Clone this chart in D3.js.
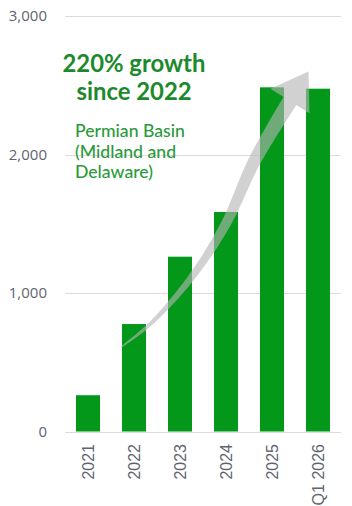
<!DOCTYPE html>
<html>
<head>
<meta charset="utf-8">
<script src="https://cdn.jsdelivr.net/npm/d3@7"></script>
<style>
  html, body { margin: 0; padding: 0; background: #fff; }
  svg { display: block; }
</style>
</head>
<body>
<svg id="chart" width="352" height="506"></svg>
<script>
// Permian Basin volumes by year
const categories = ["2021", "2022", "2023", "2024", "2025", "Q1 2026"];
const values = [262, 776, 1262, 1585, 2485, 2475];
const yTicks = [0, 1000, 2000, 3000];

const titleLines = ["220% growth", "since 2022"];
const noteLines = ["Permian Basin", "(Midland and", "Delaware)"];

// Growth arrow centreline, in (category position, value) units
const arrowPath = [
  { pos: 0.72, value: 610 },
  { pos: 1.35, value: 775 },
  { pos: 2.22, value: 1100 },
  { pos: 2.98, value: 1490 },
  { pos: 3.63, value: 1960 },
  { pos: 4.39, value: 2386 }
];

const W = 352, H = 506;
const margin = { top: 16, right: 11, bottom: 74.5, left: 65 };

const svg = d3.select("#chart");

const x = d3.scaleBand()
  .domain(categories)
  .range([margin.left, W - margin.right])
  .paddingInner(0.478)
  .paddingOuter(0.239);

const y = d3.scaleLinear()
  .domain([0, 3000])
  .range([H - margin.bottom, margin.top]);

// position along the category axis (0 = centre of first band)
const xPos = p => x(categories[0]) + x.bandwidth() / 2 + p * x.step();

// gridlines
svg.append("g")
  .selectAll("line")
  .data(yTicks)
  .join("line")
  .attr("x1", margin.left)
  .attr("x2", W - margin.right)
  .attr("y1", d => Math.round(y(d)) + 0.5)
  .attr("y2", d => Math.round(y(d)) + 0.5)
  .attr("stroke", "#dcdcdc")
  .attr("stroke-width", 1);

// y axis labels
const yAxis = d3.axisLeft(y)
  .tickValues(yTicks)
  .tickFormat(d3.format(","))
  .tickSize(0)
  .tickPadding(18);
const gy = svg.append("g")
  .attr("transform", `translate(${margin.left},0)`)
  .call(yAxis);
gy.select(".domain").remove();
gy.selectAll("text")
  .attr("font-family", "'Open Sans', sans-serif")
  .attr("font-size", 15)
  .attr("fill", "#5f6470");

// bars
svg.append("g")
  .selectAll("rect")
  .data(values)
  .join("rect")
  .attr("x", (d, i) => x(categories[i]))
  .attr("width", x.bandwidth())
  .attr("y", d => y(d))
  .attr("height", d => y(0) - y(d))
  .attr("fill", "#03981a");

// x axis labels, rotated
const xAxis = d3.axisBottom(x).tickSize(0).tickPadding(0);
const gx = svg.append("g")
  .attr("transform", `translate(0,${y(0)})`)
  .call(xAxis);
gx.select(".domain").remove();
gx.selectAll("text")
  .attr("font-family", "'Liberation Sans', Arial, sans-serif")
  .attr("font-size", 16)
  .attr("fill", "#5f6470")
  .attr("text-anchor", "end")
  .attr("dy", null)
  .attr("transform", "translate(5.5,12.5) rotate(-90)");

// growth arrow: tapered curved shaft with a head
(function drawArrow() {
  const pts = arrowPath.map(d => [xPos(d.pos), y(d.value)]);
  const line = d3.line().curve(d3.curveCatmullRom.alpha(0.5));
  const tmp = svg.append("path").attr("d", line(pts)).attr("fill", "none");
  const node = tmp.node();
  const L = node.getTotalLength();
  const N = 80;
  const left = [], right = [];
  let lastDir = [0, -1];
  for (let k = 0; k <= N; k++) {
    const t = k / N;
    const p = node.getPointAtLength(t * L);
    const p2 = node.getPointAtLength(Math.min(L, t * L + 1));
    const p1 = node.getPointAtLength(Math.max(0, t * L - 1));
    let dx = p2.x - p1.x, dy = p2.y - p1.y;
    const m = Math.hypot(dx, dy) || 1;
    dx /= m; dy /= m;
    lastDir = [dx, dy];
    const hw = 0.6 + 7 * Math.pow(t, 0.8);
    const nx = -dy, ny = dx;
    left.push([p.x + nx * hw, p.y + ny * hw]);
    right.push([p.x - nx * hw, p.y - ny * hw]);
  }
  tmp.remove();
  const base = [(left[N][0] + right[N][0]) / 2, (left[N][1] + right[N][1]) / 2];
  const [dx, dy] = lastDir;
  const nx = -dy, ny = dx;
  const headLen = 35, headHalf = 23;
  const tip = [base[0] + dx * headLen, base[1] + dy * headLen];
  const barbL = [base[0] + nx * headHalf, base[1] + ny * headHalf];
  const barbR = [base[0] - nx * headHalf, base[1] - ny * headHalf];
  const poly = [...left, barbL, tip, barbR, ...right.reverse()];
  svg.append("path")
    .attr("d", "M" + poly.map(p => p.join(",")).join("L") + "Z")
    .attr("fill", "#b4b4b4")
    .attr("fill-opacity", 0.62);
})();

// annotation text, sized to a set width
function fitText(sel, target, startSize) {
  sel.attr("font-size", startSize);
  const w = sel.node().getComputedTextLength();
  sel.attr("font-size", startSize * target / w);
}

const titleX = 134;
const t1 = svg.append("text")
  .attr("x", titleX).attr("y", 71.5)
  .attr("text-anchor", "middle")
  .attr("font-family", "Lato, 'Open Sans', sans-serif")
  .attr("font-weight", 700)
  .attr("fill", "#1c8a2c")
  .text(titleLines[0]);
fitText(t1, 143, 20);
const tSize = +t1.attr("font-size");
svg.append("text")
  .attr("x", titleX).attr("y", 100)
  .attr("text-anchor", "middle")
  .attr("font-family", "Lato, 'Open Sans', sans-serif")
  .attr("font-weight", 700)
  .attr("font-size", tSize)
  .attr("fill", "#1c8a2c")
  .text(titleLines[1]);

const n0 = svg.append("text")
  .attr("x", 75).attr("y", 136.5)
  .attr("font-family", "Lato, 'Open Sans', sans-serif")
  .attr("font-weight", 500)
  .attr("fill", "#2a9a3a")
  .text(noteLines[0]);
fitText(n0, 110, 14);
const nSize = +n0.attr("font-size");
noteLines.slice(1).forEach((s, i) => {
  svg.append("text")
    .attr("x", 75).attr("y", 157.5 + i * 20.5)
    .attr("font-family", "Lato, 'Open Sans', sans-serif")
    .attr("font-weight", 500)
    .attr("font-size", nSize)
    .attr("fill", "#2a9a3a")
    .text(s);
});
</script>
</body>
</html>
